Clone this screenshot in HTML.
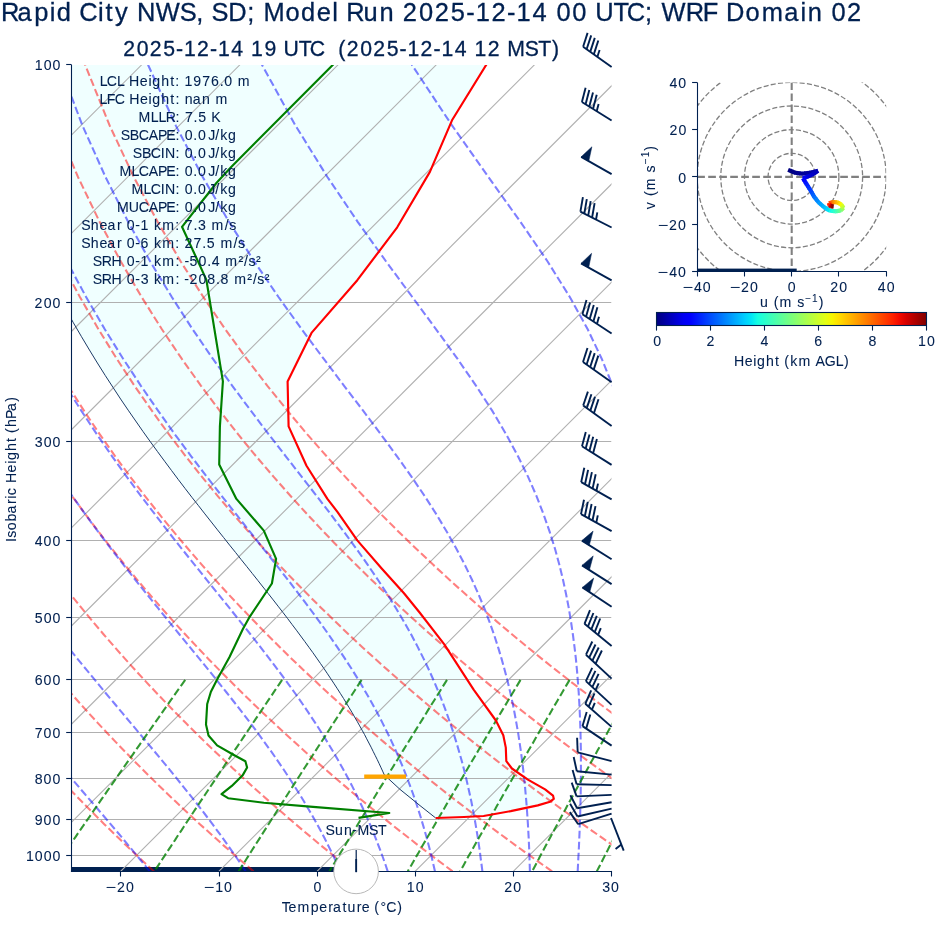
<!DOCTYPE html><html><head><meta charset="utf-8"><title>Skew-T</title><style>html,body{margin:0;padding:0;background:#fff;font-family:"Liberation Sans",sans-serif}svg{display:block;will-change:transform}</style></head><body><svg width="935" height="936" viewBox="0 0 935 936" font-family="Liberation Sans, sans-serif" fill="#002050"><style>svg,text{font-family:"Liberation Sans",sans-serif}text{stroke:#002050;stroke-width:0.08px}text.big{stroke-width:0.3px}</style>
<rect width="935" height="936" fill="#fff"/>
<defs><clipPath id="ca"><rect x="71.5" y="64.9" width="540.0" height="806.5"/></clipPath>
<linearGradient id="jet" x1="0" x2="1" y1="0" y2="0">
<stop offset="0.000" stop-color="#000080"/>
<stop offset="0.025" stop-color="#00009c"/>
<stop offset="0.050" stop-color="#0000b9"/>
<stop offset="0.075" stop-color="#0000d6"/>
<stop offset="0.100" stop-color="#0000f3"/>
<stop offset="0.125" stop-color="#0000ff"/>
<stop offset="0.150" stop-color="#0019ff"/>
<stop offset="0.175" stop-color="#0033ff"/>
<stop offset="0.200" stop-color="#004dff"/>
<stop offset="0.225" stop-color="#0066ff"/>
<stop offset="0.250" stop-color="#0080ff"/>
<stop offset="0.275" stop-color="#0099ff"/>
<stop offset="0.300" stop-color="#00b2ff"/>
<stop offset="0.325" stop-color="#00ccff"/>
<stop offset="0.350" stop-color="#00e5f7"/>
<stop offset="0.375" stop-color="#15ffe2"/>
<stop offset="0.400" stop-color="#29ffce"/>
<stop offset="0.425" stop-color="#3effb9"/>
<stop offset="0.450" stop-color="#52ffa5"/>
<stop offset="0.475" stop-color="#67ff90"/>
<stop offset="0.500" stop-color="#7bff7b"/>
<stop offset="0.525" stop-color="#90ff67"/>
<stop offset="0.550" stop-color="#a5ff52"/>
<stop offset="0.575" stop-color="#b9ff3e"/>
<stop offset="0.600" stop-color="#ceff29"/>
<stop offset="0.625" stop-color="#e2ff15"/>
<stop offset="0.650" stop-color="#f7f600"/>
<stop offset="0.675" stop-color="#ffde00"/>
<stop offset="0.700" stop-color="#ffc600"/>
<stop offset="0.725" stop-color="#ffaf00"/>
<stop offset="0.750" stop-color="#ff9700"/>
<stop offset="0.775" stop-color="#ff8000"/>
<stop offset="0.800" stop-color="#ff6800"/>
<stop offset="0.825" stop-color="#ff5000"/>
<stop offset="0.850" stop-color="#ff3900"/>
<stop offset="0.875" stop-color="#ff2100"/>
<stop offset="0.900" stop-color="#f30900"/>
<stop offset="0.925" stop-color="#d60000"/>
<stop offset="0.950" stop-color="#b90000"/>
<stop offset="0.975" stop-color="#9c0000"/>
<stop offset="1.000" stop-color="#800000"/>
</linearGradient></defs>
<g clip-path="url(#ca)">
<path d="M489.2,60.0 L452.0,120.3 L429.9,171.9 L397.2,227.3 L357.3,280.2 L311.5,332.9 L287.6,381.4 L288.6,426.4 L306.5,465.7 L327.4,498.9 L337.6,512.1 L357.3,540.4 L381.9,568.7 L404.0,593.3 L420.0,613.0 L444.3,644.3 L473.8,689.8 L495.9,720.5 L503.3,735.3 L505.8,747.6 L506.3,761.1 L511.9,768.5 L527.9,779.6 L545.1,789.4 L553.0,795.6 L553.8,798.8 L550.1,801.7 L537.8,805.4 L510.7,811.1 L483.6,816.0 L464.0,817.0 L435.7,818.0 L435.7,818.0 L420.0,805.6 L400.0,789.4 L384.3,774.9 L382.6,771.1 L380.8,767.2 L379.0,763.3 L377.1,759.3 L375.1,755.3 L373.1,751.3 L371.1,747.2 L368.9,743.0 L366.7,738.8 L364.5,734.5 L362.1,730.2 L359.7,725.9 L357.2,721.4 L354.6,717.0 L352.0,712.4 L349.2,707.8 L346.4,703.2 L343.5,698.4 L340.5,693.7 L337.4,688.8 L334.2,683.9 L330.9,678.9 L327.5,673.8 L324.0,668.6 L320.4,663.4 L316.7,658.1 L312.9,652.7 L308.9,647.2 L304.9,641.7 L300.7,636.0 L296.4,630.2 L292.0,624.4 L287.5,618.4 L282.9,612.4 L278.1,606.2 L273.2,599.9 L268.2,593.5 L263.0,587.0 L257.8,580.4 L252.4,573.6 L246.9,566.7 L241.2,559.6 L235.5,552.4 L229.6,545.1 L223.6,537.5 L217.5,529.9 L211.3,522.0 L204.9,513.9 L198.5,505.7 L191.9,497.3 L185.2,488.6 L178.4,479.7 L171.6,470.6 L164.6,461.2 L157.5,451.6 L150.3,441.7 L143.0,431.5 L135.7,421.0 L128.2,410.2 L120.6,399.0 L113.0,387.4 L105.2,375.4 L97.4,363.0 L89.5,350.1 L81.5,336.7 L73.4,322.8 L65.3,308.3 L57.1,293.2 L48.8,277.3 L40.4,260.7 L32.0,243.2 L23.5,224.8 L15.0,205.4 L6.5,184.8 L-2.1,162.9 L-10.6,139.5 L-19.0,114.3 L-27.3,87.2 L-35.5,57.8Z" fill="#f0ffff"/>
<rect x="71.5" y="867" width="262.5" height="5" fill="#002050"/>
<line x1="71.5" x2="611.5" y1="64.5" y2="64.5" stroke="#b0b0b0" stroke-width="1.1" stroke-opacity="0.12"/>
<line x1="71.5" x2="611.5" y1="302.5" y2="302.5" stroke="#b0b0b0" stroke-width="1.1"/>
<line x1="71.5" x2="611.5" y1="441.5" y2="441.5" stroke="#b0b0b0" stroke-width="1.1"/>
<line x1="71.5" x2="611.5" y1="540.5" y2="540.5" stroke="#b0b0b0" stroke-width="1.1"/>
<line x1="71.5" x2="611.5" y1="617.5" y2="617.5" stroke="#b0b0b0" stroke-width="1.1"/>
<line x1="71.5" x2="611.5" y1="679.5" y2="679.5" stroke="#b0b0b0" stroke-width="1.1"/>
<line x1="71.5" x2="611.5" y1="732.5" y2="732.5" stroke="#b0b0b0" stroke-width="1.1"/>
<line x1="71.5" x2="611.5" y1="778.5" y2="778.5" stroke="#b0b0b0" stroke-width="1.1"/>
<line x1="71.5" x2="611.5" y1="819.5" y2="819.5" stroke="#b0b0b0" stroke-width="1.1"/>
<line x1="71.5" x2="611.5" y1="855.5" y2="855.5" stroke="#b0b0b0" stroke-width="1.1"/>
<line x1="-1254.0" y1="871.4" x2="-447.3" y2="64.7" stroke="#b0b0b0" stroke-width="1.1"/>
<line x1="-1155.8" y1="871.4" x2="-349.1" y2="64.7" stroke="#b0b0b0" stroke-width="1.1"/>
<line x1="-1057.6" y1="871.4" x2="-250.9" y2="64.7" stroke="#b0b0b0" stroke-width="1.1"/>
<line x1="-959.4" y1="871.4" x2="-152.7" y2="64.7" stroke="#b0b0b0" stroke-width="1.1"/>
<line x1="-861.2" y1="871.4" x2="-54.5" y2="64.7" stroke="#b0b0b0" stroke-width="1.1"/>
<line x1="-763.0" y1="871.4" x2="43.7" y2="64.7" stroke="#b0b0b0" stroke-width="1.1"/>
<line x1="-664.9" y1="871.4" x2="141.8" y2="64.7" stroke="#b0b0b0" stroke-width="1.1"/>
<line x1="-566.7" y1="871.4" x2="240.0" y2="64.7" stroke="#b0b0b0" stroke-width="1.1"/>
<line x1="-468.5" y1="871.4" x2="338.2" y2="64.7" stroke="#b0b0b0" stroke-width="1.1"/>
<line x1="-370.3" y1="871.4" x2="436.4" y2="64.7" stroke="#b0b0b0" stroke-width="1.1"/>
<line x1="-272.1" y1="871.4" x2="534.6" y2="64.7" stroke="#b0b0b0" stroke-width="1.1"/>
<line x1="-174.0" y1="871.4" x2="632.7" y2="64.7" stroke="#b0b0b0" stroke-width="1.1"/>
<line x1="-75.8" y1="871.4" x2="730.9" y2="64.7" stroke="#b0b0b0" stroke-width="1.1"/>
<line x1="22.4" y1="871.4" x2="829.1" y2="64.7" stroke="#b0b0b0" stroke-width="1.1"/>
<line x1="120.6" y1="871.4" x2="927.3" y2="64.7" stroke="#b0b0b0" stroke-width="1.1"/>
<line x1="218.8" y1="871.4" x2="1025.5" y2="64.7" stroke="#b0b0b0" stroke-width="1.1"/>
<line x1="317.0" y1="871.4" x2="1123.7" y2="64.7" stroke="#b0b0b0" stroke-width="1.1"/>
<line x1="415.1" y1="871.4" x2="1221.8" y2="64.7" stroke="#b0b0b0" stroke-width="1.1"/>
<line x1="513.3" y1="871.4" x2="1320.0" y2="64.7" stroke="#b0b0b0" stroke-width="1.1"/>
<line x1="611.5" y1="871.4" x2="1418.2" y2="64.7" stroke="#b0b0b0" stroke-width="1.1"/>
<path d="M-44.9,871.4 L-50.8,865.0 L-56.8,858.5 L-62.8,851.8 L-68.9,845.1 L-75.0,838.1 L-81.1,831.1 L-87.3,823.9 L-93.6,816.5 L-99.9,809.0 L-106.2,801.3 L-112.6,793.5 L-119.1,785.4 L-125.6,777.2 L-132.2,768.7 L-138.8,760.1 L-145.5,751.2 L-152.3,742.1 L-159.1,732.7 L-165.9,723.1 L-172.9,713.2 L-179.9,703.0 L-186.9,692.5 L-194.0,681.6 L-201.2,670.4 L-208.4,658.9 L-215.7,646.9 L-223.1,634.5 L-230.5,621.6 L-238.0,608.2 L-245.6,594.3 L-253.2,579.8 L-260.8,564.6 L-268.5,548.8 L-276.2,532.2 L-284.0,514.7 L-291.8,496.3 L-299.6,476.9 L-307.4,456.3 L-315.2,434.4 L-322.9,410.9 L-330.5,385.8 L-337.9,358.7 L-345.1,329.3 L-352.0,297.0 L-358.4,261.5 L-364.1,221.8 L-368.7,177.0 L-371.8,125.4 L-372.5,64.7" stroke="#ff0000" stroke-opacity="0.5" stroke-dasharray="7.7 3.3" stroke-width="2.08" fill="none"/>
<path d="M54.6,871.4 L48.2,865.0 L41.7,858.5 L35.1,851.8 L28.5,845.1 L21.8,838.1 L15.1,831.1 L8.3,823.9 L1.5,816.5 L-5.4,809.0 L-12.4,801.3 L-19.4,793.5 L-26.5,785.4 L-33.6,777.2 L-40.8,768.7 L-48.1,760.1 L-55.5,751.2 L-62.9,742.1 L-70.4,732.7 L-78.0,723.1 L-85.6,713.2 L-93.4,703.0 L-101.2,692.5 L-109.1,681.6 L-117.0,670.4 L-125.1,658.9 L-133.2,646.9 L-141.4,634.5 L-149.7,621.6 L-158.1,608.2 L-166.5,594.3 L-175.1,579.8 L-183.7,564.6 L-192.4,548.8 L-201.2,532.2 L-210.1,514.7 L-219.0,496.3 L-228.0,476.9 L-237.0,456.3 L-246.0,434.4 L-255.1,410.9 L-264.1,385.8 L-273.0,358.7 L-281.8,329.3 L-290.3,297.0 L-298.5,261.5 L-306.1,221.8 L-312.9,177.0 L-318.3,125.4 L-321.7,64.7" stroke="#ff0000" stroke-opacity="0.5" stroke-dasharray="7.7 3.3" stroke-width="2.08" fill="none"/>
<path d="M154.1,871.4 L147.1,865.0 L140.1,858.5 L133.0,851.8 L125.8,845.1 L118.6,838.1 L111.3,831.1 L104.0,823.9 L96.6,816.5 L89.1,809.0 L81.5,801.3 L73.9,793.5 L66.2,785.4 L58.4,777.2 L50.5,768.7 L42.6,760.1 L34.5,751.2 L26.4,742.1 L18.2,732.7 L10.0,723.1 L1.6,713.2 L-6.9,703.0 L-15.4,692.5 L-24.1,681.6 L-32.8,670.4 L-41.7,658.9 L-50.6,646.9 L-59.7,634.5 L-68.9,621.6 L-78.1,608.2 L-87.5,594.3 L-97.0,579.8 L-106.6,564.6 L-116.3,548.8 L-126.2,532.2 L-136.1,514.7 L-146.2,496.3 L-156.3,476.9 L-166.5,456.3 L-176.8,434.4 L-187.2,410.9 L-197.6,385.8 L-208.0,358.7 L-218.4,329.3 L-228.6,297.0 L-238.6,261.5 L-248.1,221.8 L-257.0,177.0 L-264.8,125.4 L-270.8,64.7" stroke="#ff0000" stroke-opacity="0.5" stroke-dasharray="7.7 3.3" stroke-width="2.08" fill="none"/>
<path d="M253.6,871.4 L246.1,865.0 L238.5,858.5 L230.9,851.8 L223.2,845.1 L215.4,838.1 L207.6,831.1 L199.6,823.9 L191.6,816.5 L183.5,809.0 L175.4,801.3 L167.1,793.5 L158.8,785.4 L150.4,777.2 L141.9,768.7 L133.3,760.1 L124.6,751.2 L115.8,742.1 L106.9,732.7 L97.9,723.1 L88.8,713.2 L79.6,703.0 L70.3,692.5 L60.9,681.6 L51.4,670.4 L41.7,658.9 L31.9,646.9 L22.0,634.5 L12.0,621.6 L1.8,608.2 L-8.5,594.3 L-19.0,579.8 L-29.5,564.6 L-40.3,548.8 L-51.1,532.2 L-62.2,514.7 L-73.3,496.3 L-84.6,476.9 L-96.1,456.3 L-107.7,434.4 L-119.4,410.9 L-131.2,385.8 L-143.1,358.7 L-155.0,329.3 L-166.9,297.0 L-178.7,261.5 L-190.2,221.8 L-201.2,177.0 L-211.4,125.4 L-220.0,64.7" stroke="#ff0000" stroke-opacity="0.5" stroke-dasharray="7.7 3.3" stroke-width="2.08" fill="none"/>
<path d="M353.1,871.4 L345.1,865.0 L337.0,858.5 L328.8,851.8 L320.5,845.1 L312.2,838.1 L303.8,831.1 L295.3,823.9 L286.7,816.5 L278.0,809.0 L269.2,801.3 L260.4,793.5 L251.4,785.4 L242.4,777.2 L233.2,768.7 L224.0,760.1 L214.6,751.2 L205.1,742.1 L195.6,732.7 L185.9,723.1 L176.1,713.2 L166.1,703.0 L156.1,692.5 L145.9,681.6 L135.5,670.4 L125.1,658.9 L114.5,646.9 L103.7,634.5 L92.8,621.6 L81.7,608.2 L70.5,594.3 L59.1,579.8 L47.6,564.6 L35.8,548.8 L23.9,532.2 L11.8,514.7 L-0.5,496.3 L-13.0,476.9 L-25.6,456.3 L-38.5,434.4 L-51.5,410.9 L-64.8,385.8 L-78.1,358.7 L-91.6,329.3 L-105.2,297.0 L-118.8,261.5 L-132.2,221.8 L-145.4,177.0 L-157.9,125.4 L-169.1,64.7" stroke="#ff0000" stroke-opacity="0.5" stroke-dasharray="7.7 3.3" stroke-width="2.08" fill="none"/>
<path d="M452.6,871.4 L444.1,865.0 L435.4,858.5 L426.7,851.8 L417.9,845.1 L409.0,838.1 L400.0,831.1 L390.9,823.9 L381.8,816.5 L372.5,809.0 L363.1,801.3 L353.6,793.5 L344.1,785.4 L334.4,777.2 L324.6,768.7 L314.7,760.1 L304.6,751.2 L294.5,742.1 L284.2,732.7 L273.8,723.1 L263.3,713.2 L252.6,703.0 L241.8,692.5 L230.8,681.6 L219.7,670.4 L208.4,658.9 L197.0,646.9 L185.4,634.5 L173.6,621.6 L161.7,608.2 L149.5,594.3 L137.2,579.8 L124.6,564.6 L111.9,548.8 L98.9,532.2 L85.7,514.7 L72.3,496.3 L58.7,476.9 L44.8,456.3 L30.7,434.4 L16.3,410.9 L1.7,385.8 L-13.2,358.7 L-28.3,329.3 L-43.5,297.0 L-58.9,261.5 L-74.3,221.8 L-89.5,177.0 L-104.4,125.4 L-118.3,64.7" stroke="#ff0000" stroke-opacity="0.5" stroke-dasharray="7.7 3.3" stroke-width="2.08" fill="none"/>
<path d="M552.1,871.4 L543.0,865.0 L533.9,858.5 L524.6,851.8 L515.2,845.1 L505.8,838.1 L496.2,831.1 L486.6,823.9 L476.8,816.5 L467.0,809.0 L457.0,801.3 L446.9,793.5 L436.7,785.4 L426.4,777.2 L415.9,768.7 L405.4,760.1 L394.7,751.2 L383.9,742.1 L372.9,732.7 L361.8,723.1 L350.5,713.2 L339.1,703.0 L327.5,692.5 L315.8,681.6 L303.9,670.4 L291.8,658.9 L279.6,646.9 L267.1,634.5 L254.5,621.6 L241.6,608.2 L228.5,594.3 L215.2,579.8 L201.7,564.6 L188.0,548.8 L174.0,532.2 L159.7,514.7 L145.2,496.3 L130.3,476.9 L115.2,456.3 L99.8,434.4 L84.1,410.9 L68.1,385.8 L51.8,358.7 L35.1,329.3 L18.2,297.0 L1.0,261.5 L-16.3,221.8 L-33.7,177.0 L-50.9,125.4 L-67.4,64.7" stroke="#ff0000" stroke-opacity="0.5" stroke-dasharray="7.7 3.3" stroke-width="2.08" fill="none"/>
<path d="M651.6,871.4 L642.0,865.0 L632.3,858.5 L622.5,851.8 L612.6,845.1 L602.6,838.1 L592.5,831.1 L582.2,823.9 L571.9,816.5 L561.4,809.0 L550.9,801.3 L540.2,793.5 L529.3,785.4 L518.4,777.2 L507.3,768.7 L496.1,760.1 L484.7,751.2 L473.2,742.1 L461.5,732.7 L449.7,723.1 L437.7,713.2 L425.6,703.0 L413.3,692.5 L400.8,681.6 L388.1,670.4 L375.2,658.9 L362.1,646.9 L348.8,634.5 L335.3,621.6 L321.5,608.2 L307.6,594.3 L293.3,579.8 L278.8,564.6 L264.0,548.8 L249.0,532.2 L233.6,514.7 L218.0,496.3 L202.0,476.9 L185.7,456.3 L169.0,434.4 L152.0,410.9 L134.5,385.8 L116.7,358.7 L98.5,329.3 L79.9,297.0 L60.9,261.5 L41.6,221.8 L22.1,177.0 L2.6,125.4 L-16.6,64.7" stroke="#ff0000" stroke-opacity="0.5" stroke-dasharray="7.7 3.3" stroke-width="2.08" fill="none"/>
<path d="M751.1,871.4 L741.0,865.0 L730.8,858.5 L720.4,851.8 L709.9,845.1 L699.4,838.1 L688.7,831.1 L677.9,823.9 L666.9,816.5 L655.9,809.0 L644.7,801.3 L633.4,793.5 L622.0,785.4 L610.4,777.2 L598.7,768.7 L586.8,760.1 L574.8,751.2 L562.6,742.1 L550.2,732.7 L537.7,723.1 L525.0,713.2 L512.1,703.0 L499.0,692.5 L485.7,681.6 L472.3,670.4 L458.6,658.9 L444.7,646.9 L430.5,634.5 L416.1,621.6 L401.5,608.2 L386.6,594.3 L371.4,579.8 L355.9,564.6 L340.1,548.8 L324.0,532.2 L307.6,514.7 L290.8,496.3 L273.7,476.9 L256.1,456.3 L238.2,434.4 L219.8,410.9 L201.0,385.8 L181.7,358.7 L161.9,329.3 L141.6,297.0 L120.8,261.5 L99.6,221.8 L78.0,177.0 L56.1,125.4 L34.3,64.7" stroke="#ff0000" stroke-opacity="0.5" stroke-dasharray="7.7 3.3" stroke-width="2.08" fill="none"/>
<path d="M850.7,871.4 L840.0,865.0 L829.2,858.5 L818.3,851.8 L807.3,845.1 L796.2,838.1 L784.9,831.1 L773.5,823.9 L762.0,816.5 L750.4,809.0 L738.6,801.3 L726.7,793.5 L714.6,785.4 L702.4,777.2 L690.0,768.7 L677.5,760.1 L664.8,751.2 L651.9,742.1 L638.9,732.7 L625.6,723.1 L612.2,713.2 L598.6,703.0 L584.8,692.5 L570.7,681.6 L556.4,670.4 L541.9,658.9 L527.2,646.9 L512.2,634.5 L496.9,621.6 L481.4,608.2 L465.6,594.3 L449.4,579.8 L433.0,564.6 L416.2,548.8 L399.1,532.2 L381.5,514.7 L363.6,496.3 L345.3,476.9 L326.6,456.3 L307.3,434.4 L287.6,410.9 L267.4,385.8 L246.6,358.7 L225.3,329.3 L203.3,297.0 L180.7,261.5 L157.6,221.8 L133.8,177.0 L109.6,125.4 L85.1,64.7" stroke="#ff0000" stroke-opacity="0.5" stroke-dasharray="7.7 3.3" stroke-width="2.08" fill="none"/>
<path d="M-45.7,871.4 L-51.3,865.0 L-56.9,858.5 L-62.6,851.8 L-68.4,845.1 L-74.3,838.1 L-80.2,831.1 L-86.2,823.9 L-92.3,816.5 L-98.4,809.0 L-104.6,801.3 L-110.9,793.5 L-117.2,785.4 L-123.7,777.2 L-130.2,768.7 L-136.7,760.1 L-143.3,751.2 L-150.0,742.1 L-156.8,732.7 L-163.6,723.1 L-170.5,713.2 L-177.5,703.0 L-184.6,692.5 L-191.7,681.6 L-198.8,670.4 L-206.1,658.9 L-213.4,646.9 L-220.8,634.5 L-228.2,621.6 L-235.7,608.2 L-243.3,594.3 L-250.9,579.8 L-258.6,564.6 L-266.3,548.8 L-274.1,532.2 L-281.9,514.7 L-289.7,496.3 L-297.6,476.9 L-305.4,456.3 L-313.2,434.4 L-320.9,410.9 L-328.6,385.8 L-336.1,358.7 L-343.3,329.3 L-350.2,297.0 L-356.6,261.5 L-362.4,221.8 L-367.1,177.0 L-370.3,125.4 L-371.1,64.7" stroke="#0000ff" stroke-opacity="0.5" stroke-dasharray="7.7 3.3" stroke-width="2.08" fill="none"/>
<path d="M52.6,871.4 L47.0,865.0 L41.3,858.5 L35.5,851.8 L29.6,845.1 L23.5,838.1 L17.4,831.1 L11.2,823.9 L4.8,816.5 L-1.6,809.0 L-8.2,801.3 L-14.8,793.5 L-21.6,785.4 L-28.5,777.2 L-35.5,768.7 L-42.5,760.1 L-49.7,751.2 L-57.0,742.1 L-64.4,732.7 L-71.8,723.1 L-79.4,713.2 L-87.1,703.0 L-94.8,692.5 L-102.7,681.6 L-110.6,670.4 L-118.7,658.9 L-126.8,646.9 L-135.1,634.5 L-143.4,621.6 L-151.8,608.2 L-160.4,594.3 L-169.0,579.8 L-177.7,564.6 L-186.4,548.8 L-195.3,532.2 L-204.2,514.7 L-213.2,496.3 L-222.3,476.9 L-231.4,456.3 L-240.6,434.4 L-249.7,410.9 L-258.8,385.8 L-267.8,358.7 L-276.7,329.3 L-285.4,297.0 L-293.7,261.5 L-301.5,221.8 L-308.5,177.0 L-314.1,125.4 L-317.7,64.7" stroke="#0000ff" stroke-opacity="0.5" stroke-dasharray="7.7 3.3" stroke-width="2.08" fill="none"/>
<path d="M149.8,871.4 L144.6,865.0 L139.3,858.5 L133.8,851.8 L128.2,845.1 L122.4,838.1 L116.5,831.1 L110.4,823.9 L104.1,816.5 L97.7,809.0 L91.1,801.3 L84.4,793.5 L77.5,785.4 L70.5,777.2 L63.3,768.7 L55.9,760.1 L48.4,751.2 L40.7,742.1 L32.9,732.7 L24.9,723.1 L16.8,713.2 L8.5,703.0 L0.1,692.5 L-8.4,681.6 L-17.1,670.4 L-25.9,658.9 L-34.9,646.9 L-44.0,634.5 L-53.2,621.6 L-62.6,608.2 L-72.1,594.3 L-81.7,579.8 L-91.5,564.6 L-101.4,548.8 L-111.4,532.2 L-121.5,514.7 L-131.8,496.3 L-142.1,476.9 L-152.6,456.3 L-163.1,434.4 L-173.8,410.9 L-184.5,385.8 L-195.2,358.7 L-205.8,329.3 L-216.4,297.0 L-226.7,261.5 L-236.7,221.8 L-246.0,177.0 L-254.2,125.4 L-260.8,64.7" stroke="#0000ff" stroke-opacity="0.5" stroke-dasharray="7.7 3.3" stroke-width="2.08" fill="none"/>
<path d="M245.7,871.4 L241.5,865.0 L237.1,858.5 L232.5,851.8 L227.7,845.1 L222.8,838.1 L217.6,831.1 L212.3,823.9 L206.7,816.5 L201.0,809.0 L195.0,801.3 L188.8,793.5 L182.3,785.4 L175.7,777.2 L168.8,768.7 L161.7,760.1 L154.3,751.2 L146.7,742.1 L138.9,732.7 L130.8,723.1 L122.5,713.2 L114.0,703.0 L105.2,692.5 L96.2,681.6 L87.0,670.4 L77.5,658.9 L67.9,646.9 L58.0,634.5 L47.9,621.6 L37.6,608.2 L27.1,594.3 L16.5,579.8 L5.6,564.6 L-5.5,548.8 L-16.8,532.2 L-28.2,514.7 L-39.9,496.3 L-51.7,476.9 L-63.7,456.3 L-75.8,434.4 L-88.1,410.9 L-100.6,385.8 L-113.1,358.7 L-125.8,329.3 L-138.5,297.0 L-151.1,261.5 L-163.5,221.8 L-175.5,177.0 L-186.7,125.4 L-196.5,64.7" stroke="#0000ff" stroke-opacity="0.5" stroke-dasharray="7.7 3.3" stroke-width="2.08" fill="none"/>
<path d="M340.5,871.4 L337.6,865.0 L334.6,858.5 L331.4,851.8 L328.0,845.1 L324.5,838.1 L320.8,831.1 L316.9,823.9 L312.8,816.5 L308.4,809.0 L303.9,801.3 L299.1,793.5 L294.0,785.4 L288.7,777.2 L283.1,768.7 L277.2,760.1 L271.0,751.2 L264.4,742.1 L257.6,732.7 L250.4,723.1 L242.8,713.2 L234.9,703.0 L226.6,692.5 L217.9,681.6 L208.9,670.4 L199.5,658.9 L189.7,646.9 L179.5,634.5 L169.0,621.6 L158.1,608.2 L146.9,594.3 L135.3,579.8 L123.4,564.6 L111.1,548.8 L98.5,532.2 L85.6,514.7 L72.4,496.3 L58.9,476.9 L45.2,456.3 L31.1,434.4 L16.8,410.9 L2.2,385.8 L-12.7,358.7 L-27.7,329.3 L-43.0,297.0 L-58.4,261.5 L-73.8,221.8 L-89.1,177.0 L-103.9,125.4 L-117.8,64.7" stroke="#0000ff" stroke-opacity="0.5" stroke-dasharray="7.7 3.3" stroke-width="2.08" fill="none"/>
<path d="M387.7,871.4 L385.6,865.0 L383.3,858.5 L380.9,851.8 L378.3,845.1 L375.6,838.1 L372.8,831.1 L369.8,823.9 L366.6,816.5 L363.2,809.0 L359.6,801.3 L355.8,793.5 L351.8,785.4 L347.5,777.2 L342.9,768.7 L338.0,760.1 L332.9,751.2 L327.4,742.1 L321.6,732.7 L315.4,723.1 L308.8,713.2 L301.9,703.0 L294.5,692.5 L286.6,681.6 L278.3,670.4 L269.5,658.9 L260.3,646.9 L250.6,634.5 L240.3,621.6 L229.6,608.2 L218.4,594.3 L206.7,579.8 L194.5,564.6 L181.8,548.8 L168.7,532.2 L155.2,514.7 L141.2,496.3 L126.8,476.9 L112.1,456.3 L96.9,434.4 L81.4,410.9 L65.5,385.8 L49.3,358.7 L32.8,329.3 L15.9,297.0 L-1.2,261.5 L-18.4,221.8 L-35.7,177.0 L-52.8,125.4 L-69.3,64.7" stroke="#0000ff" stroke-opacity="0.5" stroke-dasharray="7.7 3.3" stroke-width="2.08" fill="none"/>
<path d="M435.0,871.4 L433.5,865.0 L432.0,858.5 L430.4,851.8 L428.6,845.1 L426.8,838.1 L424.8,831.1 L422.7,823.9 L420.5,816.5 L418.1,809.0 L415.6,801.3 L412.9,793.5 L409.9,785.4 L406.8,777.2 L403.5,768.7 L399.9,760.1 L396.0,751.2 L391.9,742.1 L387.4,732.7 L382.6,723.1 L377.5,713.2 L371.9,703.0 L365.9,692.5 L359.5,681.6 L352.6,670.4 L345.1,658.9 L337.1,646.9 L328.6,634.5 L319.4,621.6 L309.5,608.2 L299.0,594.3 L287.9,579.8 L276.0,564.6 L263.5,548.8 L250.3,532.2 L236.5,514.7 L222.0,496.3 L206.9,476.9 L191.2,456.3 L174.9,434.4 L158.2,410.9 L140.9,385.8 L123.1,358.7 L104.8,329.3 L86.1,297.0 L67.0,261.5 L47.5,221.8 L27.8,177.0 L8.0,125.4 L-11.4,64.7" stroke="#0000ff" stroke-opacity="0.5" stroke-dasharray="7.7 3.3" stroke-width="2.08" fill="none"/>
<path d="M482.4,871.4 L481.6,865.0 L480.7,858.5 L479.9,851.8 L478.9,845.1 L477.9,838.1 L476.7,831.1 L475.5,823.9 L474.2,816.5 L472.8,809.0 L471.3,801.3 L469.6,793.5 L467.8,785.4 L465.9,777.2 L463.8,768.7 L461.5,760.1 L459.0,751.2 L456.3,742.1 L453.4,732.7 L450.2,723.1 L446.7,713.2 L442.9,703.0 L438.7,692.5 L434.2,681.6 L429.2,670.4 L423.7,658.9 L417.7,646.9 L411.2,634.5 L403.9,621.6 L396.0,608.2 L387.4,594.3 L377.9,579.8 L367.6,564.6 L356.4,548.8 L344.2,532.2 L331.1,514.7 L316.9,496.3 L301.8,476.9 L285.8,456.3 L268.8,434.4 L251.0,410.9 L232.3,385.8 L212.8,358.7 L192.6,329.3 L171.8,297.0 L150.2,261.5 L128.1,221.8 L105.5,177.0 L82.4,125.4 L59.3,64.7" stroke="#0000ff" stroke-opacity="0.5" stroke-dasharray="7.7 3.3" stroke-width="2.08" fill="none"/>
<path d="M529.9,871.4 L529.7,865.0 L529.5,858.5 L529.3,851.8 L529.0,845.1 L528.7,838.1 L528.3,831.1 L527.9,823.9 L527.4,816.5 L526.9,809.0 L526.3,801.3 L525.6,793.5 L524.9,785.4 L524.0,777.2 L523.1,768.7 L522.0,760.1 L520.9,751.2 L519.5,742.1 L518.1,732.7 L516.4,723.1 L514.6,713.2 L512.6,703.0 L510.3,692.5 L507.7,681.6 L504.8,670.4 L501.6,658.9 L498.0,646.9 L494.0,634.5 L489.4,621.6 L484.3,608.2 L478.5,594.3 L472.0,579.8 L464.7,564.6 L456.4,548.8 L447.1,532.2 L436.6,514.7 L424.8,496.3 L411.6,476.9 L397.0,456.3 L380.9,434.4 L363.3,410.9 L344.1,385.8 L323.6,358.7 L301.7,329.3 L278.5,297.0 L254.3,261.5 L229.0,221.8 L202.7,177.0 L175.7,125.4 L148.0,64.7" stroke="#0000ff" stroke-opacity="0.5" stroke-dasharray="7.7 3.3" stroke-width="2.08" fill="none"/>
<path d="M577.7,871.4 L578.0,865.0 L578.3,858.5 L578.7,851.8 L579.0,845.1 L579.3,838.1 L579.6,831.1 L579.8,823.9 L580.1,816.5 L580.3,809.0 L580.5,801.3 L580.7,793.5 L580.8,785.4 L580.9,777.2 L580.9,768.7 L580.9,760.1 L580.9,751.2 L580.7,742.1 L580.5,732.7 L580.2,723.1 L579.8,713.2 L579.3,703.0 L578.7,692.5 L577.9,681.6 L577.0,670.4 L575.9,658.9 L574.5,646.9 L572.9,634.5 L571.0,621.6 L568.8,608.2 L566.1,594.3 L563.0,579.8 L559.3,564.6 L555.0,548.8 L549.8,532.2 L543.7,514.7 L536.6,496.3 L528.1,476.9 L518.0,456.3 L506.2,434.4 L492.3,410.9 L476.1,385.8 L457.4,358.7 L436.1,329.3 L412.3,297.0 L386.1,261.5 L357.7,221.8 L327.4,177.0 L295.4,125.4 L261.9,64.7" stroke="#0000ff" stroke-opacity="0.5" stroke-dasharray="7.7 3.3" stroke-width="2.08" fill="none"/>
<path d="M625.6,871.4 L626.4,865.0 L627.2,858.5 L628.0,851.8 L628.8,845.1 L629.6,838.1 L630.5,831.1 L631.3,823.9 L632.1,816.5 L633.0,809.0 L633.8,801.3 L634.6,793.5 L635.5,785.4 L636.3,777.2 L637.2,768.7 L638.0,760.1 L638.8,751.2 L639.6,742.1 L640.5,732.7 L641.2,723.1 L642.0,713.2 L642.7,703.0 L643.4,692.5 L644.1,681.6 L644.7,670.4 L645.3,658.9 L645.7,646.9 L646.1,634.5 L646.4,621.6 L646.5,608.2 L646.4,594.3 L646.2,579.8 L645.7,564.6 L644.9,548.8 L643.7,532.2 L642.0,514.7 L639.8,496.3 L636.8,476.9 L632.9,456.3 L627.8,434.4 L621.2,410.9 L612.7,385.8 L601.7,358.7 L587.7,329.3 L569.8,297.0 L547.6,261.5 L520.4,221.8 L488.4,177.0 L452.0,125.4 L411.8,64.7" stroke="#0000ff" stroke-opacity="0.5" stroke-dasharray="7.7 3.3" stroke-width="2.08" fill="none"/>
<path d="M185.2,679.9 L181.5,685.1 L177.9,690.2 L174.3,695.3 L170.8,700.2 L167.4,705.1 L164.0,709.9 L160.7,714.7 L157.4,719.4 L154.1,724.0 L150.9,728.6 L147.7,733.1 L144.6,737.6 L141.5,742.0 L138.5,746.3 L135.5,750.6 L132.6,754.8 L129.6,759.0 L126.7,763.1 L123.9,767.2 L121.1,771.2 L118.3,775.2 L115.6,779.2 L112.8,783.1 L110.2,786.9 L107.5,790.7 L104.9,794.5 L102.3,798.2 L99.7,801.9 L97.2,805.6 L94.7,809.2 L92.2,812.7 L89.8,816.3 L87.3,819.8 L84.9,823.2 L82.6,826.7 L80.2,830.1 L77.9,833.4 L75.6,836.8 L73.3,840.1 L71.0,843.3 L68.8,846.6 L66.6,849.8 L64.4,852.9 L62.2,856.1 L60.1,859.2 L57.9,862.3 L55.8,865.4 L53.7,868.4 L51.7,871.4" stroke="#008000" stroke-opacity="0.8" stroke-dasharray="7.7 3.3" stroke-width="2.08" fill="none"/>
<path d="M282.1,679.9 L278.6,685.1 L275.1,690.2 L271.7,695.3 L268.4,700.2 L265.1,705.1 L261.8,709.9 L258.6,714.7 L255.4,719.4 L252.3,724.0 L249.3,728.6 L246.2,733.1 L243.2,737.6 L240.3,742.0 L237.4,746.3 L234.5,750.6 L231.7,754.8 L228.9,759.0 L226.1,763.1 L223.4,767.2 L220.7,771.2 L218.0,775.2 L215.4,779.2 L212.8,783.1 L210.2,786.9 L207.7,790.7 L205.2,794.5 L202.7,798.2 L200.2,801.9 L197.8,805.6 L195.4,809.2 L193.0,812.7 L190.7,816.3 L188.4,819.8 L186.1,823.2 L183.8,826.7 L181.6,830.1 L179.3,833.4 L177.1,836.8 L175.0,840.1 L172.8,843.3 L170.7,846.6 L168.5,849.8 L166.4,852.9 L164.4,856.1 L162.3,859.2 L160.3,862.3 L158.3,865.4 L156.3,868.4 L154.3,871.4" stroke="#008000" stroke-opacity="0.8" stroke-dasharray="7.7 3.3" stroke-width="2.08" fill="none"/>
<path d="M361.6,679.9 L358.2,685.1 L354.9,690.2 L351.6,695.3 L348.4,700.2 L345.2,705.1 L342.1,709.9 L339.0,714.7 L335.9,719.4 L332.9,724.0 L330.0,728.6 L327.0,733.1 L324.2,737.6 L321.3,742.0 L318.5,746.3 L315.7,750.6 L313.0,754.8 L310.3,759.0 L307.7,763.1 L305.0,767.2 L302.4,771.2 L299.9,775.2 L297.3,779.2 L294.8,783.1 L292.4,786.9 L289.9,790.7 L287.5,794.5 L285.1,798.2 L282.8,801.9 L280.4,805.6 L278.1,809.2 L275.9,812.7 L273.6,816.3 L271.4,819.8 L269.2,823.2 L267.0,826.7 L264.8,830.1 L262.7,833.4 L260.6,836.8 L258.5,840.1 L256.4,843.3 L254.3,846.6 L252.3,849.8 L250.3,852.9 L248.3,856.1 L246.3,859.2 L244.4,862.3 L242.4,865.4 L240.5,868.4 L238.6,871.4" stroke="#008000" stroke-opacity="0.8" stroke-dasharray="7.7 3.3" stroke-width="2.08" fill="none"/>
<path d="M447.0,679.9 L443.7,685.1 L440.5,690.2 L437.4,695.3 L434.3,700.2 L431.2,705.1 L428.2,709.9 L425.3,714.7 L422.4,719.4 L419.5,724.0 L416.6,728.6 L413.8,733.1 L411.1,737.6 L408.4,742.0 L405.7,746.3 L403.0,750.6 L400.4,754.8 L397.9,759.0 L395.3,763.1 L392.8,767.2 L390.3,771.2 L387.9,775.2 L385.4,779.2 L383.1,783.1 L380.7,786.9 L378.4,790.7 L376.1,794.5 L373.8,798.2 L371.5,801.9 L369.3,805.6 L367.1,809.2 L364.9,812.7 L362.8,816.3 L360.6,819.8 L358.5,823.2 L356.4,826.7 L354.4,830.1 L352.3,833.4 L350.3,836.8 L348.3,840.1 L346.3,843.3 L344.4,846.6 L342.4,849.8 L340.5,852.9 L338.6,856.1 L336.7,859.2 L334.9,862.3 L333.0,865.4 L331.2,868.4 L329.4,871.4" stroke="#008000" stroke-opacity="0.8" stroke-dasharray="7.7 3.3" stroke-width="2.08" fill="none"/>
<path d="M520.5,679.9 L517.4,685.1 L514.3,690.2 L511.3,695.3 L508.3,700.2 L505.4,705.1 L502.5,709.9 L499.6,714.7 L496.8,719.4 L494.1,724.0 L491.3,728.6 L488.6,733.1 L486.0,737.6 L483.4,742.0 L480.8,746.3 L478.3,750.6 L475.8,754.8 L473.3,759.0 L470.8,763.1 L468.4,767.2 L466.1,771.2 L463.7,775.2 L461.4,779.2 L459.1,783.1 L456.8,786.9 L454.6,790.7 L452.4,794.5 L450.2,798.2 L448.0,801.9 L445.9,805.6 L443.8,809.2 L441.7,812.7 L439.6,816.3 L437.6,819.8 L435.6,823.2 L433.6,826.7 L431.6,830.1 L429.7,833.4 L427.7,836.8 L425.8,840.1 L423.9,843.3 L422.0,846.6 L420.2,849.8 L418.4,852.9 L416.5,856.1 L414.7,859.2 L413.0,862.3 L411.2,865.4 L409.4,868.4 L407.7,871.4" stroke="#008000" stroke-opacity="0.8" stroke-dasharray="7.7 3.3" stroke-width="2.08" fill="none"/>
<path d="M569.6,679.9 L566.5,685.1 L563.5,690.2 L560.6,695.3 L557.7,700.2 L554.8,705.1 L552.0,709.9 L549.3,714.7 L546.5,719.4 L543.9,724.0 L541.2,728.6 L538.6,733.1 L536.0,737.6 L533.5,742.0 L531.0,746.3 L528.5,750.6 L526.1,754.8 L523.7,759.0 L521.3,763.1 L519.0,767.2 L516.7,771.2 L514.4,775.2 L512.1,779.2 L509.9,783.1 L507.7,786.9 L505.5,790.7 L503.4,794.5 L501.3,798.2 L499.2,801.9 L497.1,805.6 L495.1,809.2 L493.0,812.7 L491.0,816.3 L489.1,819.8 L487.1,823.2 L485.2,826.7 L483.3,830.1 L481.4,833.4 L479.5,836.8 L477.6,840.1 L475.8,843.3 L474.0,846.6 L472.2,849.8 L470.4,852.9 L468.6,856.1 L466.9,859.2 L465.2,862.3 L463.5,865.4 L461.8,868.4 L460.1,871.4" stroke="#008000" stroke-opacity="0.8" stroke-dasharray="7.7 3.3" stroke-width="2.08" fill="none"/>
<path d="M636.9,679.9 L634.0,685.1 L631.1,690.2 L628.3,695.3 L625.5,700.2 L622.8,705.1 L620.1,709.9 L617.4,714.7 L614.8,719.4 L612.2,724.0 L609.7,728.6 L607.2,733.1 L604.7,737.6 L602.3,742.0 L599.9,746.3 L597.5,750.6 L595.2,754.8 L592.9,759.0 L590.6,763.1 L588.4,767.2 L586.2,771.2 L584.0,775.2 L581.8,779.2 L579.7,783.1 L577.6,786.9 L575.5,790.7 L573.5,794.5 L571.4,798.2 L569.4,801.9 L567.4,805.6 L565.5,809.2 L563.6,812.7 L561.6,816.3 L559.8,819.8 L557.9,823.2 L556.0,826.7 L554.2,830.1 L552.4,833.4 L550.6,836.8 L548.8,840.1 L547.1,843.3 L545.3,846.6 L543.6,849.8 L541.9,852.9 L540.2,856.1 L538.6,859.2 L536.9,862.3 L535.3,865.4 L533.7,868.4 L532.1,871.4" stroke="#008000" stroke-opacity="0.8" stroke-dasharray="7.7 3.3" stroke-width="2.08" fill="none"/>
<path d="M697.4,679.9 L694.6,685.1 L691.8,690.2 L689.1,695.3 L686.4,700.2 L683.8,705.1 L681.2,709.9 L678.6,714.7 L676.1,719.4 L673.6,724.0 L671.2,728.6 L668.8,733.1 L666.4,737.6 L664.1,742.0 L661.8,746.3 L659.5,750.6 L657.3,754.8 L655.1,759.0 L652.9,763.1 L650.7,767.2 L648.6,771.2 L646.5,775.2 L644.5,779.2 L642.4,783.1 L640.4,786.9 L638.4,790.7 L636.4,794.5 L634.5,798.2 L632.6,801.9 L630.7,805.6 L628.8,809.2 L626.9,812.7 L625.1,816.3 L623.3,819.8 L621.5,823.2 L619.7,826.7 L618.0,830.1 L616.2,833.4 L614.5,836.8 L612.8,840.1 L611.2,843.3 L609.5,846.6 L607.9,849.8 L606.2,852.9 L604.6,856.1 L603.0,859.2 L601.5,862.3 L599.9,865.4 L598.3,868.4 L596.8,871.4" stroke="#008000" stroke-opacity="0.8" stroke-dasharray="7.7 3.3" stroke-width="2.08" fill="none"/>
<path d="M741.5,679.9 L738.8,685.1 L736.1,690.2 L733.4,695.3 L730.8,700.2 L728.3,705.1 L725.8,709.9 L723.3,714.7 L720.9,719.4 L718.5,724.0 L716.1,728.6 L713.8,733.1 L711.5,737.6 L709.2,742.0 L707.0,746.3 L704.8,750.6 L702.6,754.8 L700.5,759.0 L698.4,763.1 L696.3,767.2 L694.2,771.2 L692.2,775.2 L690.2,779.2 L688.2,783.1 L686.3,786.9 L684.3,790.7 L682.4,794.5 L680.5,798.2 L678.7,801.9 L676.8,805.6 L675.0,809.2 L673.2,812.7 L671.5,816.3 L669.7,819.8 L668.0,823.2 L666.3,826.7 L664.6,830.1 L662.9,833.4 L661.2,836.8 L659.6,840.1 L658.0,843.3 L656.4,846.6 L654.8,849.8 L653.2,852.9 L651.7,856.1 L650.1,859.2 L648.6,862.3 L647.1,865.4 L645.6,868.4 L644.1,871.4" stroke="#008000" stroke-opacity="0.8" stroke-dasharray="7.7 3.3" stroke-width="2.08" fill="none"/>
<path d="M435.7,818.0 L420.0,805.6 L400.0,789.4 L384.3,774.9 L382.6,771.1 L380.8,767.2 L379.0,763.3 L377.1,759.3 L375.1,755.3 L373.1,751.3 L371.1,747.2 L368.9,743.0 L366.7,738.8 L364.5,734.5 L362.1,730.2 L359.7,725.9 L357.2,721.4 L354.6,717.0 L352.0,712.4 L349.2,707.8 L346.4,703.2 L343.5,698.4 L340.5,693.7 L337.4,688.8 L334.2,683.9 L330.9,678.9 L327.5,673.8 L324.0,668.6 L320.4,663.4 L316.7,658.1 L312.9,652.7 L308.9,647.2 L304.9,641.7 L300.7,636.0 L296.4,630.2 L292.0,624.4 L287.5,618.4 L282.9,612.4 L278.1,606.2 L273.2,599.9 L268.2,593.5 L263.0,587.0 L257.8,580.4 L252.4,573.6 L246.9,566.7 L241.2,559.6 L235.5,552.4 L229.6,545.1 L223.6,537.5 L217.5,529.9 L211.3,522.0 L204.9,513.9 L198.5,505.7 L191.9,497.3 L185.2,488.6 L178.4,479.7 L171.6,470.6 L164.6,461.2 L157.5,451.6 L150.3,441.7 L143.0,431.5 L135.7,421.0 L128.2,410.2 L120.6,399.0 L113.0,387.4 L105.2,375.4 L97.4,363.0 L89.5,350.1 L81.5,336.7 L73.4,322.8 L65.3,308.3 L57.1,293.2 L48.8,277.3 L40.4,260.7 L32.0,243.2 L23.5,224.8 L15.0,205.4 L6.5,184.8 L-2.1,162.9 L-10.6,139.5 L-19.0,114.3 L-27.3,87.2 L-35.5,57.8" stroke="#1c3a66" stroke-width="1.0" fill="none"/>
<path d="M489.2,60.0 L452.0,120.3 L429.9,171.9 L397.2,227.3 L357.3,280.2 L311.5,332.9 L287.6,381.4 L288.6,426.4 L306.5,465.7 L327.4,498.9 L337.6,512.1 L357.3,540.4 L381.9,568.7 L404.0,593.3 L420.0,613.0 L444.3,644.3 L473.8,689.8 L495.9,720.5 L503.3,735.3 L505.8,747.6 L506.3,761.1 L511.9,768.5 L527.9,779.6 L545.1,789.4 L553.0,795.6 L553.8,798.8 L550.1,801.7 L537.8,805.4 L510.7,811.1 L483.6,816.0 L464.0,817.0 L435.7,818.0" stroke="#ff0000" stroke-width="2.15" fill="none" stroke-linejoin="round"/>
<path d="M337.7,60.0 L231.2,167.0 L216.4,183.0 L182.0,226.8 L200.4,266.6 L206.4,280.0 L222.9,381.4 L219.9,426.4 L219.2,464.5 L236.4,498.9 L263.8,530.6 L276.1,558.9 L271.9,583.5 L249.0,617.9 L242.9,629.0 L229.4,657.3 L217.1,679.4 L210.9,691.7 L207.2,704.0 L206.0,724.4 L208.5,735.5 L217.1,745.4 L234.3,755.2 L245.4,761.3 L247.1,767.5 L242.9,774.9 L231.8,785.9 L221.5,794.1 L228.1,798.2 L263.8,802.7 L313.0,806.9 L389.3,813.0 L358.5,817.9" stroke="#008000" stroke-width="2.15" fill="none" stroke-linejoin="round"/>
<line x1="364.2" x2="406" y1="776.6" y2="776.6" stroke="#ffa500" stroke-width="4.2"/>
</g>
<line x1="71.5" x2="71.5" y1="64.7" y2="872.05" stroke="#002050" stroke-width="1.1"/>
<line x1="70.95" x2="612.05" y1="871.5" y2="871.5" stroke="#002050" stroke-width="1.1"/>
<line x1="66.2" x2="71.5" y1="64.5" y2="64.5" stroke="#002050" stroke-width="1.1"/>
<line x1="66.2" x2="71.5" y1="302.5" y2="302.5" stroke="#002050" stroke-width="1.1"/>
<line x1="66.2" x2="71.5" y1="441.5" y2="441.5" stroke="#002050" stroke-width="1.1"/>
<line x1="66.2" x2="71.5" y1="540.5" y2="540.5" stroke="#002050" stroke-width="1.1"/>
<line x1="66.2" x2="71.5" y1="617.5" y2="617.5" stroke="#002050" stroke-width="1.1"/>
<line x1="66.2" x2="71.5" y1="679.5" y2="679.5" stroke="#002050" stroke-width="1.1"/>
<line x1="66.2" x2="71.5" y1="732.5" y2="732.5" stroke="#002050" stroke-width="1.1"/>
<line x1="66.2" x2="71.5" y1="778.5" y2="778.5" stroke="#002050" stroke-width="1.1"/>
<line x1="66.2" x2="71.5" y1="819.5" y2="819.5" stroke="#002050" stroke-width="1.1"/>
<line x1="66.2" x2="71.5" y1="855.5" y2="855.5" stroke="#002050" stroke-width="1.1"/>
<line x1="120.5" x2="120.5" y1="871.4" y2="876.5" stroke="#002050" stroke-width="1.1"/>
<line x1="219.5" x2="219.5" y1="871.4" y2="876.5" stroke="#002050" stroke-width="1.1"/>
<line x1="317.5" x2="317.5" y1="871.4" y2="876.5" stroke="#002050" stroke-width="1.1"/>
<line x1="415.5" x2="415.5" y1="871.4" y2="876.5" stroke="#002050" stroke-width="1.1"/>
<line x1="513.5" x2="513.5" y1="871.4" y2="876.5" stroke="#002050" stroke-width="1.1"/>
<line x1="611.5" x2="611.5" y1="871.4" y2="876.5" stroke="#002050" stroke-width="1.1"/>
<circle cx="356.1" cy="871.4" r="22.3" fill="#fff" stroke="#b0b0b0" stroke-width="0.9"/>
<line x1="356.2" x2="356.2" y1="850.1" y2="872" stroke="#002050" stroke-width="1.2"/>
<line x1="356.2" x2="356.2" y1="859" y2="872.2" stroke="#002050" stroke-width="1.8"/>
<line x1="611.6" y1="67.1" x2="583.1" y2="46.8" stroke="#002050" stroke-width="1.9" stroke-linecap="butt"/><line x1="583.1" y1="46.8" x2="587.6" y2="32.9" stroke="#002050" stroke-width="1.9"/><line x1="586.6" y1="49.3" x2="591.2" y2="35.4" stroke="#002050" stroke-width="1.9"/><line x1="590.2" y1="51.9" x2="594.8" y2="37.9" stroke="#002050" stroke-width="1.9"/><line x1="593.8" y1="54.4" x2="598.3" y2="40.5" stroke="#002050" stroke-width="1.9"/><line x1="597.3" y1="57.0" x2="599.6" y2="50.0" stroke="#002050" stroke-width="1.9"/>
<line x1="611.6" y1="120.5" x2="581.9" y2="102.0" stroke="#002050" stroke-width="1.9" stroke-linecap="butt"/><line x1="581.9" y1="102.0" x2="585.6" y2="87.8" stroke="#002050" stroke-width="1.9"/><line x1="585.6" y1="104.3" x2="589.3" y2="90.1" stroke="#002050" stroke-width="1.9"/><line x1="589.3" y1="106.6" x2="593.0" y2="92.4" stroke="#002050" stroke-width="1.9"/><line x1="593.0" y1="108.9" x2="596.7" y2="94.7" stroke="#002050" stroke-width="1.9"/><line x1="596.7" y1="111.2" x2="598.6" y2="104.1" stroke="#002050" stroke-width="1.9"/>
<line x1="611.6" y1="174.1" x2="581.2" y2="156.8" stroke="#002050" stroke-width="1.9" stroke-linecap="butt"/><polygon points="581.2,156.8 591.9,146.8 588.8,161.1" fill="#002050" stroke="#002050" stroke-width="0.5" stroke-linejoin="round"/>
<line x1="611.6" y1="227.5" x2="580.4" y2="211.6" stroke="#002050" stroke-width="1.9" stroke-linecap="butt"/><line x1="580.4" y1="211.6" x2="582.9" y2="197.1" stroke="#002050" stroke-width="1.9"/><line x1="584.3" y1="213.6" x2="586.8" y2="199.1" stroke="#002050" stroke-width="1.9"/><line x1="588.2" y1="215.6" x2="590.7" y2="201.1" stroke="#002050" stroke-width="1.9"/><line x1="592.1" y1="217.5" x2="594.6" y2="203.1" stroke="#002050" stroke-width="1.9"/><line x1="596.0" y1="219.5" x2="597.3" y2="212.3" stroke="#002050" stroke-width="1.9"/>
<line x1="611.6" y1="280.4" x2="581.0" y2="263.4" stroke="#002050" stroke-width="1.9" stroke-linecap="butt"/><polygon points="581.0,263.4 591.6,253.3 588.7,267.6" fill="#002050" stroke="#002050" stroke-width="0.5" stroke-linejoin="round"/>
<line x1="611.6" y1="333.5" x2="582.4" y2="314.2" stroke="#002050" stroke-width="1.9" stroke-linecap="butt"/><line x1="582.4" y1="314.2" x2="586.5" y2="300.1" stroke="#002050" stroke-width="1.9"/><line x1="586.1" y1="316.6" x2="590.1" y2="302.5" stroke="#002050" stroke-width="1.9"/><line x1="589.7" y1="319.0" x2="593.8" y2="304.9" stroke="#002050" stroke-width="1.9"/><line x1="593.4" y1="321.4" x2="597.4" y2="307.3" stroke="#002050" stroke-width="1.9"/><line x1="597.0" y1="323.8" x2="599.0" y2="316.8" stroke="#002050" stroke-width="1.9"/>
<line x1="611.6" y1="382.2" x2="583.0" y2="362.0" stroke="#002050" stroke-width="1.9" stroke-linecap="butt"/><line x1="583.0" y1="362.0" x2="587.5" y2="348.0" stroke="#002050" stroke-width="1.9"/><line x1="586.6" y1="364.5" x2="591.1" y2="350.6" stroke="#002050" stroke-width="1.9"/><line x1="590.2" y1="367.0" x2="594.7" y2="353.1" stroke="#002050" stroke-width="1.9"/><line x1="593.7" y1="369.6" x2="598.3" y2="355.6" stroke="#002050" stroke-width="1.9"/>
<line x1="611.6" y1="426.0" x2="583.2" y2="405.5" stroke="#002050" stroke-width="1.9" stroke-linecap="butt"/><line x1="583.2" y1="405.5" x2="587.9" y2="391.6" stroke="#002050" stroke-width="1.9"/><line x1="586.8" y1="408.1" x2="591.4" y2="394.2" stroke="#002050" stroke-width="1.9"/><line x1="590.3" y1="410.6" x2="595.0" y2="396.7" stroke="#002050" stroke-width="1.9"/><line x1="593.9" y1="413.2" x2="598.5" y2="399.3" stroke="#002050" stroke-width="1.9"/>
<line x1="611.6" y1="464.9" x2="582.0" y2="446.2" stroke="#002050" stroke-width="1.9" stroke-linecap="butt"/><line x1="582.0" y1="446.2" x2="585.8" y2="432.0" stroke="#002050" stroke-width="1.9"/><line x1="585.7" y1="448.5" x2="589.5" y2="434.4" stroke="#002050" stroke-width="1.9"/><line x1="589.4" y1="450.9" x2="593.2" y2="436.7" stroke="#002050" stroke-width="1.9"/><line x1="593.1" y1="453.2" x2="596.9" y2="439.0" stroke="#002050" stroke-width="1.9"/>
<line x1="611.6" y1="499.4" x2="581.2" y2="482.1" stroke="#002050" stroke-width="1.9" stroke-linecap="butt"/><line x1="581.2" y1="482.1" x2="584.3" y2="467.7" stroke="#002050" stroke-width="1.9"/><line x1="585.0" y1="484.2" x2="588.1" y2="469.9" stroke="#002050" stroke-width="1.9"/><line x1="588.8" y1="486.4" x2="591.9" y2="472.1" stroke="#002050" stroke-width="1.9"/><line x1="592.6" y1="488.6" x2="595.7" y2="474.2" stroke="#002050" stroke-width="1.9"/><line x1="596.4" y1="490.7" x2="598.0" y2="483.6" stroke="#002050" stroke-width="1.9"/>
<line x1="611.6" y1="531.1" x2="581.0" y2="514.1" stroke="#002050" stroke-width="1.9" stroke-linecap="butt"/><line x1="581.0" y1="514.1" x2="584.0" y2="499.7" stroke="#002050" stroke-width="1.9"/><line x1="584.8" y1="516.2" x2="587.8" y2="501.9" stroke="#002050" stroke-width="1.9"/><line x1="588.7" y1="518.3" x2="591.6" y2="504.0" stroke="#002050" stroke-width="1.9"/><line x1="592.5" y1="520.5" x2="595.5" y2="506.1" stroke="#002050" stroke-width="1.9"/><line x1="596.3" y1="522.6" x2="597.8" y2="515.4" stroke="#002050" stroke-width="1.9"/>
<line x1="611.6" y1="559.2" x2="581.9" y2="540.6" stroke="#002050" stroke-width="1.9" stroke-linecap="butt"/><polygon points="581.9,540.6 593.1,531.1 589.3,545.3" fill="#002050" stroke="#002050" stroke-width="0.5" stroke-linejoin="round"/>
<line x1="611.6" y1="584.1" x2="582.0" y2="565.4" stroke="#002050" stroke-width="1.9" stroke-linecap="butt"/><polygon points="582.0,565.4 593.2,555.9 589.4,570.1" fill="#002050" stroke="#002050" stroke-width="0.5" stroke-linejoin="round"/>
<line x1="611.6" y1="606.7" x2="582.4" y2="587.4" stroke="#002050" stroke-width="1.9" stroke-linecap="butt"/><polygon points="582.4,587.4 593.7,578.1 589.7,592.2" fill="#002050" stroke="#002050" stroke-width="0.5" stroke-linejoin="round"/>
<line x1="611.6" y1="646.0" x2="584.5" y2="623.8" stroke="#002050" stroke-width="1.9" stroke-linecap="butt"/><line x1="584.5" y1="623.8" x2="590.0" y2="610.2" stroke="#002050" stroke-width="1.9"/><line x1="587.9" y1="626.6" x2="593.4" y2="613.0" stroke="#002050" stroke-width="1.9"/><line x1="591.3" y1="629.3" x2="596.8" y2="615.8" stroke="#002050" stroke-width="1.9"/><line x1="594.7" y1="632.1" x2="600.2" y2="618.5" stroke="#002050" stroke-width="1.9"/><line x1="598.1" y1="634.9" x2="600.8" y2="628.1" stroke="#002050" stroke-width="1.9"/>
<line x1="611.6" y1="678.6" x2="586.0" y2="654.7" stroke="#002050" stroke-width="1.9" stroke-linecap="butt"/><line x1="586.0" y1="654.7" x2="592.3" y2="641.5" stroke="#002050" stroke-width="1.9"/><line x1="589.2" y1="657.7" x2="595.5" y2="644.5" stroke="#002050" stroke-width="1.9"/><line x1="592.4" y1="660.7" x2="598.7" y2="647.5" stroke="#002050" stroke-width="1.9"/><line x1="595.6" y1="663.7" x2="601.9" y2="650.5" stroke="#002050" stroke-width="1.9"/>
<line x1="611.6" y1="704.9" x2="585.9" y2="681.1" stroke="#002050" stroke-width="1.9" stroke-linecap="butt"/><line x1="585.9" y1="681.1" x2="592.2" y2="667.9" stroke="#002050" stroke-width="1.9"/><line x1="589.1" y1="684.1" x2="595.4" y2="670.9" stroke="#002050" stroke-width="1.9"/><line x1="592.3" y1="687.1" x2="598.6" y2="673.8" stroke="#002050" stroke-width="1.9"/><line x1="595.5" y1="690.1" x2="598.7" y2="683.4" stroke="#002050" stroke-width="1.9"/>
<line x1="611.6" y1="726.9" x2="585.3" y2="703.8" stroke="#002050" stroke-width="1.9" stroke-linecap="butt"/><line x1="585.3" y1="703.8" x2="591.2" y2="690.4" stroke="#002050" stroke-width="1.9"/><line x1="588.6" y1="706.7" x2="594.5" y2="693.3" stroke="#002050" stroke-width="1.9"/><line x1="591.9" y1="709.6" x2="594.8" y2="702.9" stroke="#002050" stroke-width="1.9"/>
<line x1="611.6" y1="745.6" x2="582.5" y2="726.1" stroke="#002050" stroke-width="1.9" stroke-linecap="butt"/><line x1="582.5" y1="726.1" x2="586.7" y2="712.0" stroke="#002050" stroke-width="1.9"/><line x1="586.2" y1="728.5" x2="590.3" y2="714.5" stroke="#002050" stroke-width="1.9"/>
<line x1="611.6" y1="761.2" x2="577.7" y2="752.3" stroke="#002050" stroke-width="1.9" stroke-linecap="butt"/><line x1="577.7" y1="752.3" x2="577.1" y2="737.7" stroke="#002050" stroke-width="1.9"/>
<line x1="611.6" y1="774.6" x2="576.8" y2="771.3" stroke="#002050" stroke-width="1.9" stroke-linecap="butt"/><line x1="576.8" y1="771.3" x2="573.7" y2="757.0" stroke="#002050" stroke-width="1.9"/>
<line x1="611.6" y1="785.1" x2="576.6" y2="784.2" stroke="#002050" stroke-width="1.9" stroke-linecap="butt"/><line x1="576.6" y1="784.2" x2="572.6" y2="770.1" stroke="#002050" stroke-width="1.9"/>
<line x1="611.6" y1="794.9" x2="576.6" y2="796.4" stroke="#002050" stroke-width="1.9" stroke-linecap="butt"/><line x1="576.6" y1="796.4" x2="571.7" y2="782.6" stroke="#002050" stroke-width="1.9"/>
<line x1="611.6" y1="802.2" x2="577.1" y2="808.3" stroke="#002050" stroke-width="1.9" stroke-linecap="butt"/><line x1="577.1" y1="808.3" x2="570.4" y2="795.2" stroke="#002050" stroke-width="1.9"/>
<line x1="611.6" y1="808.6" x2="577.5" y2="816.5" stroke="#002050" stroke-width="1.9" stroke-linecap="butt"/><line x1="577.5" y1="816.5" x2="570.1" y2="803.8" stroke="#002050" stroke-width="1.9"/>
<line x1="611.6" y1="813.7" x2="578.2" y2="824.2" stroke="#002050" stroke-width="1.9" stroke-linecap="butt"/><line x1="578.2" y1="824.2" x2="569.8" y2="812.1" stroke="#002050" stroke-width="1.9"/>
<line x1="611.0" y1="818.0" x2="623.7" y2="850.6" stroke="#002050" stroke-width="1.9" stroke-linecap="butt"/><line x1="621.3" y1="844.5" x2="615.6" y2="849.1" stroke="#002050" stroke-width="1.9"/>
<defs><clipPath id="ch"><rect x="697.2" y="82.4" width="189.0" height="189.0"/></clipPath></defs>
<g clip-path="url(#ch)">
<circle cx="791.7" cy="176.9" r="23.6" fill="none" stroke="#808080" stroke-width="1.3" stroke-dasharray="5.1 2.2"/>
<circle cx="791.7" cy="176.9" r="47.2" fill="none" stroke="#808080" stroke-width="1.3" stroke-dasharray="5.1 2.2"/>
<circle cx="791.7" cy="176.9" r="70.9" fill="none" stroke="#808080" stroke-width="1.3" stroke-dasharray="5.1 2.2"/>
<circle cx="791.7" cy="176.9" r="94.5" fill="none" stroke="#808080" stroke-width="1.3" stroke-dasharray="5.1 2.2"/>
<circle cx="791.7" cy="176.9" r="118.1" fill="none" stroke="#808080" stroke-width="1.3" stroke-dasharray="5.1 2.2"/>
<line x1="697.2" x2="886.2" y1="176.9" y2="176.9" stroke="#808080" stroke-width="2.1" stroke-dasharray="7.7 3.3"/>
<line y1="82.4" y2="271.4" x1="791.7" x2="791.7" stroke="#808080" stroke-width="2.1" stroke-dasharray="7.7 3.3"/>
<rect x="697.2" y="268.6" width="99.5" height="4" fill="#002050"/>
<line x1="788.08" y1="169.87" x2="791.06" y2="171.06" stroke="#000081" stroke-width="4.2" stroke-linecap="butt"/>
<line x1="790.41" y1="170.80" x2="793.39" y2="172.00" stroke="#000085" stroke-width="4.2" stroke-linecap="butt"/>
<line x1="792.74" y1="171.74" x2="795.72" y2="172.93" stroke="#000089" stroke-width="4.2" stroke-linecap="butt"/>
<line x1="795.05" y1="172.75" x2="798.01" y2="173.15" stroke="#00008d" stroke-width="4.2" stroke-linecap="butt"/>
<line x1="797.32" y1="173.05" x2="800.28" y2="173.45" stroke="#000091" stroke-width="4.2" stroke-linecap="butt"/>
<line x1="799.59" y1="173.35" x2="802.55" y2="173.75" stroke="#000095" stroke-width="4.2" stroke-linecap="butt"/>
<line x1="801.85" y1="173.74" x2="805.11" y2="173.36" stroke="#000099" stroke-width="4.2" stroke-linecap="butt"/>
<line x1="804.42" y1="173.44" x2="807.68" y2="173.06" stroke="#00009c" stroke-width="4.2" stroke-linecap="butt"/>
<line x1="806.99" y1="173.14" x2="810.25" y2="172.76" stroke="#0000a0" stroke-width="4.2" stroke-linecap="butt"/>
<line x1="809.56" y1="172.88" x2="812.87" y2="172.08" stroke="#0000a5" stroke-width="4.2" stroke-linecap="butt"/>
<line x1="812.19" y1="172.25" x2="815.51" y2="171.45" stroke="#0000ab" stroke-width="4.2" stroke-linecap="butt"/>
<line x1="814.83" y1="171.62" x2="818.14" y2="170.82" stroke="#0000b1" stroke-width="4.2" stroke-linecap="butt"/>
<line x1="818.09" y1="170.70" x2="815.74" y2="172.30" stroke="#0000b7" stroke-width="4.2" stroke-linecap="butt"/>
<line x1="816.32" y1="171.90" x2="813.98" y2="173.50" stroke="#0000bc" stroke-width="4.2" stroke-linecap="butt"/>
<line x1="814.56" y1="173.10" x2="812.21" y2="174.70" stroke="#0000c2" stroke-width="4.2" stroke-linecap="butt"/>
<line x1="812.82" y1="174.36" x2="810.48" y2="175.37" stroke="#0000c9" stroke-width="4.2" stroke-linecap="butt"/>
<line x1="811.12" y1="175.09" x2="808.78" y2="176.11" stroke="#0000d1" stroke-width="4.2" stroke-linecap="butt"/>
<line x1="809.42" y1="175.83" x2="807.08" y2="176.84" stroke="#0000d8" stroke-width="4.2" stroke-linecap="butt"/>
<line x1="807.73" y1="176.57" x2="805.64" y2="177.40" stroke="#0000e2" stroke-width="4.2" stroke-linecap="butt"/>
<line x1="806.29" y1="177.14" x2="804.21" y2="177.96" stroke="#0000ee" stroke-width="4.2" stroke-linecap="butt"/>
<line x1="804.86" y1="177.70" x2="802.77" y2="178.53" stroke="#0000f9" stroke-width="4.2" stroke-linecap="butt"/>
<line x1="802.92" y1="178.10" x2="804.41" y2="180.57" stroke="#0000ff" stroke-width="4.2" stroke-linecap="butt"/>
<line x1="804.05" y1="179.97" x2="805.55" y2="182.43" stroke="#0005ff" stroke-width="4.2" stroke-linecap="butt"/>
<line x1="805.19" y1="181.83" x2="806.68" y2="184.30" stroke="#0013ff" stroke-width="4.2" stroke-linecap="butt"/>
<line x1="806.31" y1="183.70" x2="808.12" y2="186.56" stroke="#0020ff" stroke-width="4.2" stroke-linecap="butt"/>
<line x1="807.75" y1="185.97" x2="809.55" y2="188.83" stroke="#002eff" stroke-width="4.2" stroke-linecap="butt"/>
<line x1="809.18" y1="188.24" x2="810.99" y2="191.10" stroke="#003bff" stroke-width="4.2" stroke-linecap="butt"/>
<line x1="810.63" y1="190.50" x2="812.11" y2="193.10" stroke="#0049ff" stroke-width="4.2" stroke-linecap="butt"/>
<line x1="811.76" y1="192.50" x2="813.24" y2="195.10" stroke="#0057ff" stroke-width="4.2" stroke-linecap="butt"/>
<line x1="812.89" y1="194.50" x2="814.37" y2="197.10" stroke="#0064ff" stroke-width="4.2" stroke-linecap="butt"/>
<line x1="813.98" y1="196.52" x2="815.85" y2="198.91" stroke="#0072ff" stroke-width="4.2" stroke-linecap="butt"/>
<line x1="815.42" y1="198.36" x2="817.28" y2="200.74" stroke="#0080ff" stroke-width="4.2" stroke-linecap="butt"/>
<line x1="816.85" y1="200.19" x2="818.72" y2="202.58" stroke="#008dff" stroke-width="4.2" stroke-linecap="butt"/>
<line x1="818.24" y1="202.07" x2="820.76" y2="204.26" stroke="#009bff" stroke-width="4.2" stroke-linecap="butt"/>
<line x1="820.24" y1="203.80" x2="822.76" y2="206.00" stroke="#00a8ff" stroke-width="4.2" stroke-linecap="butt"/>
<line x1="822.24" y1="205.54" x2="824.76" y2="207.73" stroke="#00b6ff" stroke-width="4.2" stroke-linecap="butt"/>
<line x1="824.20" y1="207.32" x2="826.50" y2="208.68" stroke="#00c5ff" stroke-width="4.2" stroke-linecap="butt"/>
<line x1="825.90" y1="208.32" x2="828.20" y2="209.68" stroke="#00d6ff" stroke-width="4.2" stroke-linecap="butt"/>
<line x1="827.60" y1="209.32" x2="829.90" y2="210.68" stroke="#01e7f5" stroke-width="4.2" stroke-linecap="butt"/>
<line x1="829.25" y1="210.45" x2="831.95" y2="210.81" stroke="#10fae6" stroke-width="4.2" stroke-linecap="butt"/>
<line x1="831.25" y1="210.72" x2="833.95" y2="211.08" stroke="#21ffd6" stroke-width="4.2" stroke-linecap="butt"/>
<line x1="833.25" y1="210.99" x2="835.95" y2="211.35" stroke="#31ffc5" stroke-width="4.2" stroke-linecap="butt"/>
<line x1="835.25" y1="211.35" x2="837.65" y2="210.98" stroke="#43ffb4" stroke-width="4.2" stroke-linecap="butt"/>
<line x1="836.95" y1="211.09" x2="839.35" y2="210.71" stroke="#56ffa0" stroke-width="4.2" stroke-linecap="butt"/>
<line x1="838.65" y1="210.82" x2="841.05" y2="210.45" stroke="#6aff8d" stroke-width="4.2" stroke-linecap="butt"/>
<line x1="840.45" y1="210.75" x2="841.81" y2="209.39" stroke="#7dff7a" stroke-width="4.2" stroke-linecap="butt"/>
<line x1="841.32" y1="209.88" x2="842.68" y2="208.52" stroke="#90ff67" stroke-width="4.2" stroke-linecap="butt"/>
<line x1="842.19" y1="209.01" x2="843.55" y2="207.65" stroke="#a3ff54" stroke-width="4.2" stroke-linecap="butt"/>
<line x1="843.48" y1="208.20" x2="842.42" y2="206.47" stroke="#b6ff40" stroke-width="4.2" stroke-linecap="butt"/>
<line x1="842.78" y1="207.06" x2="841.72" y2="205.34" stroke="#caff2d" stroke-width="4.2" stroke-linecap="butt"/>
<line x1="842.08" y1="205.93" x2="841.02" y2="204.20" stroke="#ddff1a" stroke-width="4.2" stroke-linecap="butt"/>
<line x1="841.50" y1="204.67" x2="839.60" y2="203.59" stroke="#f0fd07" stroke-width="4.2" stroke-linecap="butt"/>
<line x1="840.20" y1="203.94" x2="838.30" y2="202.86" stroke="#ffe700" stroke-width="4.2" stroke-linecap="butt"/>
<line x1="838.90" y1="203.21" x2="837.00" y2="202.13" stroke="#ffd100" stroke-width="4.2" stroke-linecap="butt"/>
<line x1="837.65" y1="202.32" x2="835.52" y2="202.22" stroke="#ffbd00" stroke-width="4.2" stroke-linecap="butt"/>
<line x1="836.22" y1="202.25" x2="834.08" y2="202.15" stroke="#ffaa00" stroke-width="4.2" stroke-linecap="butt"/>
<line x1="834.78" y1="202.18" x2="832.65" y2="202.08" stroke="#ff9700" stroke-width="4.2" stroke-linecap="butt"/>
<line x1="833.34" y1="202.00" x2="831.40" y2="202.56" stroke="#ff8100" stroke-width="4.2" stroke-linecap="butt"/>
<line x1="832.07" y1="202.37" x2="830.13" y2="202.93" stroke="#ff6800" stroke-width="4.2" stroke-linecap="butt"/>
<line x1="830.80" y1="202.74" x2="828.86" y2="203.30" stroke="#ff4f00" stroke-width="4.2" stroke-linecap="butt"/>
<line x1="829.13" y1="202.86" x2="829.40" y2="204.24" stroke="#ff3900" stroke-width="4.2" stroke-linecap="butt"/>
<line x1="829.27" y1="203.56" x2="829.53" y2="204.94" stroke="#ff2600" stroke-width="4.2" stroke-linecap="butt"/>
<line x1="829.40" y1="204.26" x2="829.67" y2="205.64" stroke="#ff1300" stroke-width="4.2" stroke-linecap="butt"/>
<line x1="829.29" y1="205.13" x2="830.44" y2="205.77" stroke="#e80000" stroke-width="4.2" stroke-linecap="butt"/>
<line x1="829.83" y1="205.43" x2="830.97" y2="206.07" stroke="#d10000" stroke-width="4.2" stroke-linecap="butt"/>
<line x1="830.36" y1="205.73" x2="831.51" y2="206.37" stroke="#b90000" stroke-width="4.2" stroke-linecap="butt"/>
<line x1="830.85" y1="206.17" x2="832.28" y2="206.30" stroke="#a60000" stroke-width="4.2" stroke-linecap="butt"/>
<line x1="831.58" y1="206.23" x2="833.02" y2="206.37" stroke="#970000" stroke-width="4.2" stroke-linecap="butt"/>
<line x1="832.32" y1="206.30" x2="833.75" y2="206.43" stroke="#870000" stroke-width="4.2" stroke-linecap="butt"/>
</g>
<line x1="697.5" x2="697.5" y1="82.4" y2="272.1" stroke="#002050" stroke-width="1.1"/>
<line x1="697.0" x2="886.7" y1="271.5" y2="271.5" stroke="#002050" stroke-width="1.1"/>
<line x1="697.5" x2="697.5" y1="271.4" y2="276.5" stroke="#002050" stroke-width="1.1"/>
<line x1="692.1" x2="697.2" y1="271.5" y2="271.5" stroke="#002050" stroke-width="1.1"/>
<line x1="744.5" x2="744.5" y1="271.4" y2="276.5" stroke="#002050" stroke-width="1.1"/>
<line x1="692.1" x2="697.2" y1="224.5" y2="224.5" stroke="#002050" stroke-width="1.1"/>
<line x1="791.5" x2="791.5" y1="271.4" y2="276.5" stroke="#002050" stroke-width="1.1"/>
<line x1="692.1" x2="697.2" y1="176.5" y2="176.5" stroke="#002050" stroke-width="1.1"/>
<line x1="838.5" x2="838.5" y1="271.4" y2="276.5" stroke="#002050" stroke-width="1.1"/>
<line x1="692.1" x2="697.2" y1="129.5" y2="129.5" stroke="#002050" stroke-width="1.1"/>
<line x1="886.5" x2="886.5" y1="271.4" y2="276.5" stroke="#002050" stroke-width="1.1"/>
<line x1="692.1" x2="697.2" y1="82.5" y2="82.5" stroke="#002050" stroke-width="1.1"/>
<text x="760.0" y="306.9" font-size="14.14" textLength="63.4" lengthAdjust="spacing">u (m s<tspan font-size="10" dy="-5.2">−1</tspan><tspan dy="5.2">)</tspan></text>
<text transform="translate(654.6,209.2) rotate(-90)" font-size="14.14" textLength="63.2" lengthAdjust="spacing">v (m s<tspan font-size="10" dy="-5.2">−1</tspan><tspan dy="5.2">)</tspan></text>
<rect x="656.5" y="312.5" width="270.0" height="13" fill="url(#jet)" stroke="#002050" stroke-width="1.1"/>
<line x1="656.5" x2="656.5" y1="325.5" y2="330.6" stroke="#002050" stroke-width="1.1"/>
<line x1="710.5" x2="710.5" y1="325.5" y2="330.6" stroke="#002050" stroke-width="1.1"/>
<line x1="764.5" x2="764.5" y1="325.5" y2="330.6" stroke="#002050" stroke-width="1.1"/>
<line x1="818.5" x2="818.5" y1="325.5" y2="330.6" stroke="#002050" stroke-width="1.1"/>
<line x1="872.5" x2="872.5" y1="325.5" y2="330.6" stroke="#002050" stroke-width="1.1"/>
<line x1="926.5" x2="926.5" y1="325.5" y2="330.6" stroke="#002050" stroke-width="1.1"/>
<text y="69.90" font-size="14.14" x="34.74 43.65 52.49">100</text>
<text y="307.90" font-size="14.14" x="34.62 43.64 52.48">200</text>
<text y="446.90" font-size="14.14" x="34.83 43.65 52.48">300</text>
<text y="545.90" font-size="14.14" x="34.75 43.59 52.43">400</text>
<text y="622.90" font-size="14.14" x="34.78 43.67 52.50">500</text>
<text y="684.90" font-size="14.14" x="34.71 43.55 52.38">600</text>
<text y="737.90" font-size="14.14" x="34.76 43.62 52.46">700</text>
<text y="783.90" font-size="14.14" x="34.74 43.58 52.41">800</text>
<text y="824.90" font-size="14.14" x="34.67 43.55 52.39">900</text>
<text y="860.90" font-size="14.14" x="25.89 34.80 43.63 52.47">1000</text>
<text transform="scale(1.27,1)" y="892.10" font-size="14.14" x="83.16">−</text><text y="892.10" font-size="14.14" x="117.01 126.03">20</text>
<text transform="scale(1.27,1)" y="892.10" font-size="14.14" x="160.37">−</text><text y="892.10" font-size="14.14" x="215.15 224.08">10</text>
<text y="892.10" font-size="14.14" x="313.38">0</text>
<text y="892.10" font-size="14.14" x="406.72 415.63">10</text>
<text y="892.10" font-size="14.14" x="504.35 513.37">20</text>
<text y="892.10" font-size="14.14" x="602.14 610.96">30</text>
<text y="911.70" font-size="14.14" x="281.80 288.38 297.38 310.65 319.28 328.29 332.96 342.49 347.56 356.76 361.70 370.21 374.35 380.41 386.27 397.16">Temperature (°C)</text>
<text transform="translate(16.00,540.63) rotate(-90)" font-size="14.14" x="-1.28 2.92 10.29 19.04 27.10 36.58 41.87 45.49 53.25 57.54 68.24 76.78 80.66 89.57 98.61 103.58 107.75 113.65 121.69 129.54 138.95">Isobaric Height (hPa)</text>
<text class="big" y="20.90" font-size="25.45" x="0.92 17.50 34.18 49.69 56.67 72.29 79.19 97.91 105.50 115.02 129.23 136.89 155.77 179.74 196.21 204.42 211.50 228.27 247.23 255.91 263.59 285.55 300.97 316.81 332.18 338.91 346.32 363.45 379.41 394.80 402.84 419.08 434.65 450.79 466.20 475.69 491.39 507.03 516.52 532.55 548.03 556.40 572.31 587.79 595.25 613.46 626.79 645.04 653.72 661.56 685.85 702.69 718.14 726.12 745.47 761.82 784.20 800.52 807.70 823.09 831.47 847.04">Rapid City NWS, SD; Model Run 2025-12-14 00 UTC; WRF Domain 02</text>
<text class="big" y="55.95" font-size="21.21" x="123.25 136.78 149.76 163.21 176.03 183.96 197.03 210.05 217.98 231.33 244.21 251.10 264.39 277.34 283.58 298.75 309.87 328.18 334.80 338.13 346.72 360.25 373.22 386.67 399.50 407.42 420.50 433.52 441.44 454.79 467.67 474.57 487.65 500.80 507.24 524.70 538.16 552.04">2025-12-14 19 UTC  (2025-12-14 12 MST)</text>
<text y="85.95" font-size="14.14" x="99.64 106.79 117.08 124.90 129.09 139.82 148.44 152.25 161.15 170.26 175.36">LCL Height:</text>
<text y="85.95" font-size="14.14" x="184.46 193.33 202.18 211.05 219.75 224.30 233.01 237.87">1976.0 m</text>
<text y="103.94" font-size="14.14" x="99.48 106.64 114.64 124.94 129.20 139.91 148.47 152.33 161.24 170.30 175.40">LFC Height:</text>
<text y="103.94" font-size="14.14" x="184.70 192.80 202.01 210.63 215.57">nan m</text>
<text y="121.93" font-size="14.14" x="138.55 150.64 158.38 165.85 175.45">MLLR:</text>
<text y="121.93" font-size="14.14" x="184.93 193.54 198.15 206.80 211.14">7.5 K</text>
<text y="139.92" font-size="14.14" x="120.75 129.85 138.80 148.82 158.02 166.32 175.59">SBCAPE:</text>
<text y="139.92" font-size="14.14" x="184.77 193.36 198.02 206.62 208.20 215.26 220.18 228.00">0.0 J/kg</text>
<text y="157.91" font-size="14.14" x="132.82 141.92 150.85 160.76 165.06 175.55">SBCIN:</text>
<text y="157.91" font-size="14.14" x="184.77 193.36 198.02 206.62 208.20 215.26 220.18 228.00">0.0 J/kg</text>
<text y="175.90" font-size="14.14" x="119.43 131.44 138.67 148.70 157.90 166.20 175.54">MLCAPE:</text>
<text y="175.90" font-size="14.14" x="184.77 193.36 198.02 206.62 208.20 215.26 220.18 228.00">0.0 J/kg</text>
<text y="193.89" font-size="14.14" x="131.41 143.48 150.67 160.70 164.88 175.48">MLCIN:</text>
<text y="193.89" font-size="14.14" x="184.77 193.36 198.02 206.62 208.20 215.26 220.18 228.00">0.0 J/kg</text>
<text y="211.88" font-size="14.14" x="117.03 128.83 138.69 148.73 157.92 166.22 175.55">MUCAPE:</text>
<text y="211.88" font-size="14.14" x="184.77 193.36 198.02 206.62 208.20 215.26 220.18 228.00">0.0 J/kg</text>
<text y="229.87" font-size="14.14" x="81.18 90.73 99.42 107.40 116.93 122.13 126.72 135.28 140.50 149.23 153.95 162.23 175.36">Shear 0-1 km:</text>
<text y="229.87" font-size="14.14" x="184.72 193.44 198.02 206.70 211.59 224.77 229.18">7.3 m/s</text>
<text y="247.86" font-size="14.14" x="81.14 90.70 99.39 107.37 116.91 122.11 126.69 135.26 140.54 149.22 153.92 162.19 175.34">Shear 0-6 km:</text>
<text y="247.86" font-size="14.14" x="184.53 193.52 202.22 206.75 215.48 220.41 233.56 237.98">27.5 m/s</text>
<text y="265.85" font-size="14.14" x="92.76 101.75 111.57 122.17 126.81 135.33 140.59 149.28 154.04 162.37 175.40">SRH 0-1 km:</text>
<text y="265.85" font-size="14.14" x="184.39 189.62 198.51 207.17 211.76 220.43 225.37 238.42 244.08 248.50 255.91">-50.4 m²/s²</text>
<text y="283.84" font-size="14.14" x="92.76 101.75 111.57 122.17 126.81 135.33 140.68 149.28 154.04 162.37 175.40">SRH 0-3 km:</text>
<text y="283.84" font-size="14.14" x="184.37 189.47 198.49 207.33 216.00 220.58 229.26 234.18 247.25 252.90 257.32 264.73">-208.8 m²/s²</text>
<text y="835.10" font-size="14.14" x="325.60 335.08 343.94 352.37 357.39 369.02 377.99">Sun-MST</text>
<text transform="scale(1.27,1)" y="291.70" font-size="14.14" x="537.32">−</text><text y="291.70" font-size="14.14" x="693.97 702.81">40</text>
<text transform="scale(1.27,1)" y="277.08" font-size="14.14" x="517.81">−</text><text y="277.08" font-size="14.14" x="669.19 678.03">40</text>
<text transform="scale(1.27,1)" y="291.70" font-size="14.14" x="574.55">−</text><text y="291.70" font-size="14.14" x="741.07 750.09">20</text>
<text transform="scale(1.27,1)" y="229.84" font-size="14.14" x="517.84">−</text><text y="229.84" font-size="14.14" x="669.05 678.07">20</text>
<text y="291.70" font-size="14.14" x="787.63">0</text>
<text y="182.60" font-size="14.14" x="678.33">0</text>
<text y="291.70" font-size="14.14" x="830.29 839.31">20</text>
<text y="135.36" font-size="14.14" x="669.38 678.40">20</text>
<text y="291.70" font-size="14.14" x="877.81 886.65">40</text>
<text y="88.12" font-size="14.14" x="669.49 678.33">40</text>
<text y="345.80" font-size="14.14" x="653.23">0</text>
<text y="345.80" font-size="14.14" x="706.48">2</text>
<text y="345.80" font-size="14.14" x="760.47">4</text>
<text y="345.80" font-size="14.14" x="814.33">6</text>
<text y="345.80" font-size="14.14" x="868.58">8</text>
<text y="345.80" font-size="14.14" x="918.02 926.93">10</text>
<text y="365.90" font-size="14.14" x="733.92 744.66 753.27 757.09 765.99 775.09 780.06 784.21 790.20 798.50 811.47 815.59 824.68 835.83 844.11">Height (km AGL)</text>
</svg></body></html>
